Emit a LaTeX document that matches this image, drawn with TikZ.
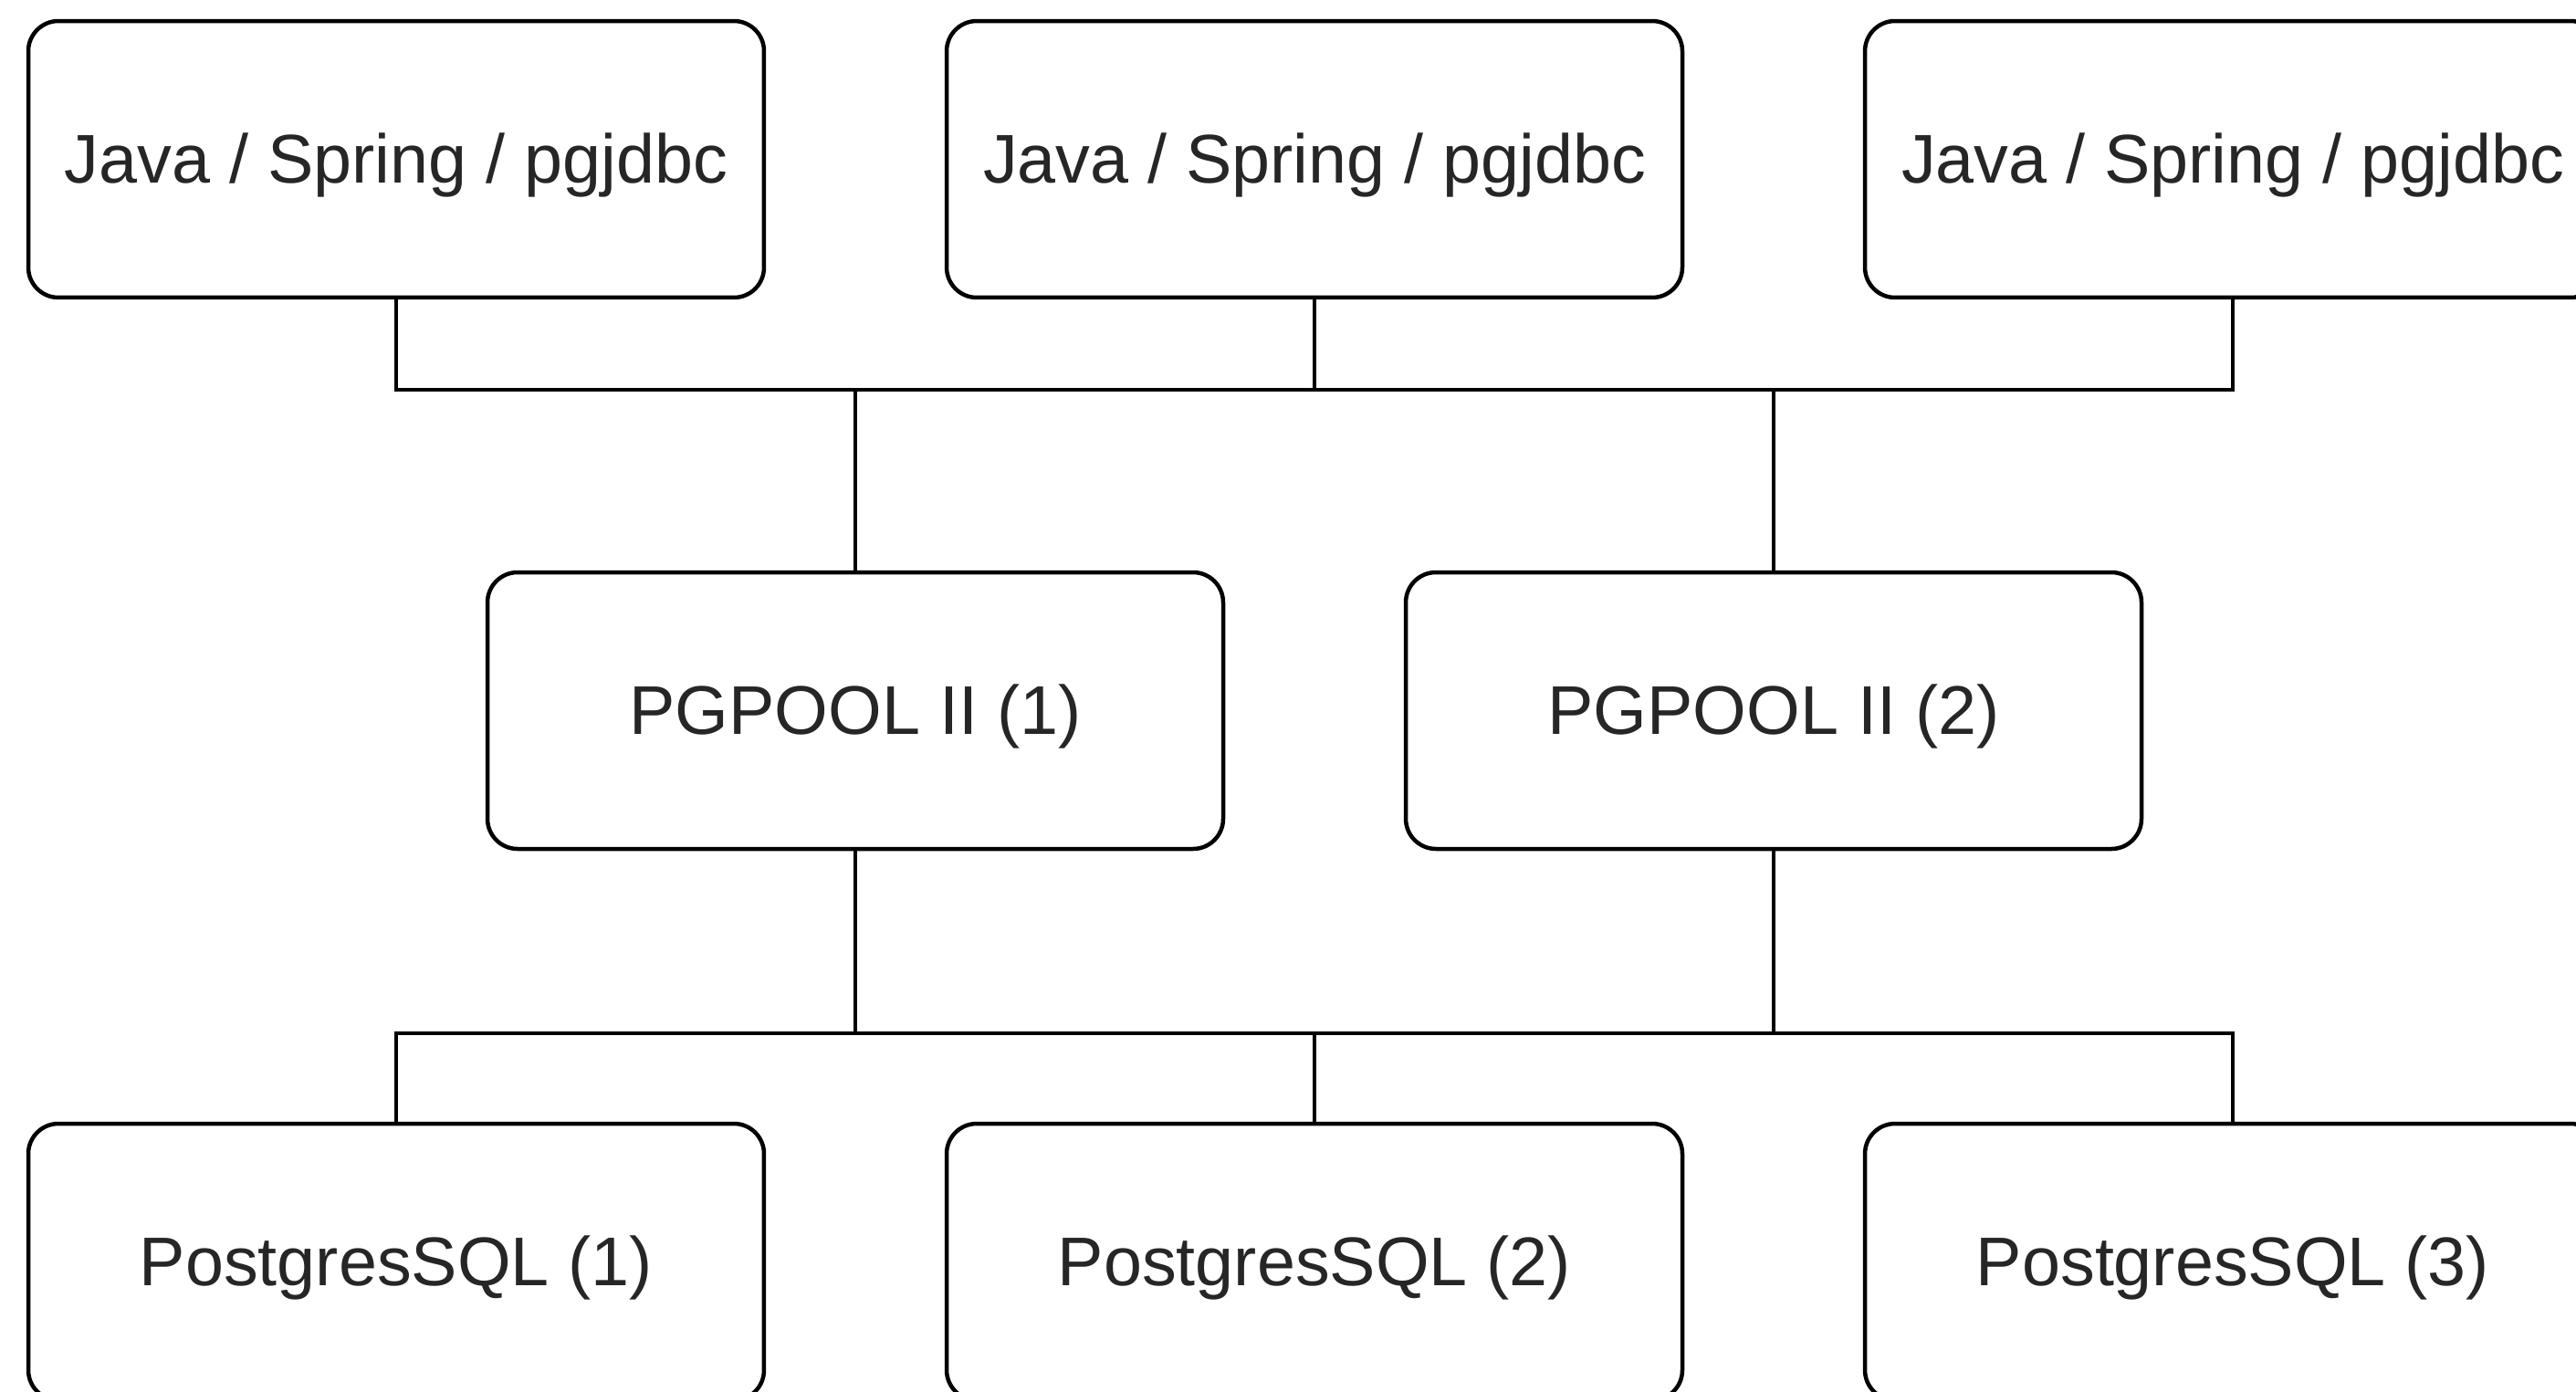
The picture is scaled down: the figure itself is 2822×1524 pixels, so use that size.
\documentclass[tikz,border=0pt]{standalone}
\usepackage{fontspec}
\setmainfont{Liberation Sans}
\begin{document}
\begin{tikzpicture}[x=0.1pt, y=-0.1pt, font=\fontsize{7.55}{9}\selectfont,
      box/.style={draw, rounded corners=3.3pt, line width=0.45pt, text=black!85,
                  minimum width=80.6pt, minimum height=30.3pt, inner sep=0pt,
                  text height=6.7pt, text depth=1.6pt},
      link/.style={draw, line width=0.45pt}]
    \useasboundingbox (0,0) rectangle (2822,1524);
    \clip (0,0) rectangle (2822,1524);
    % clients
    \node[box] (app1) at (434,174.5)  {Java / Spring / pgjdbc};
    \node[box] (app2) at (1440,174.5) {Java / Spring / pgjdbc};
    \node[box] (app3) at (2446,174.5) {Java / Spring / pgjdbc};
    % pools
    \node[box] (pool1) at (937,778.5)  {PGPOOL II (1)};
    \node[box] (pool2) at (1943,778.5) {PGPOOL II (2)};
    % databases
    \node[box] (db1) at (434,1382.5)  {PostgresSQL (1)};
    \node[box] (db2) at (1440,1382.5) {PostgresSQL (2)};
    \node[box] (db3) at (2446,1382.5) {PostgresSQL (3)};
    \coordinate (upbus) at (0,427);
    \coordinate (lowbus) at (0,1132);
    % upper bus
    \draw[link] (app1.south) |- (upbus -| app3.south) -- (app3.south);
    \draw[link] (app2.south) -- (app2.south |- upbus);
    \draw[link] (pool1.north) -- (pool1.north |- upbus);
    \draw[link] (pool2.north) -- (pool2.north |- upbus);
    % lower bus
    \draw[link] (db1.north) |- (lowbus -| db3.north) -- (db3.north);
    \draw[link] (db2.north) -- (db2.north |- lowbus);
    \draw[link] (pool1.south) -- (pool1.south |- lowbus);
    \draw[link] (pool2.south) -- (pool2.south |- lowbus);
\end{tikzpicture}
\end{document}
